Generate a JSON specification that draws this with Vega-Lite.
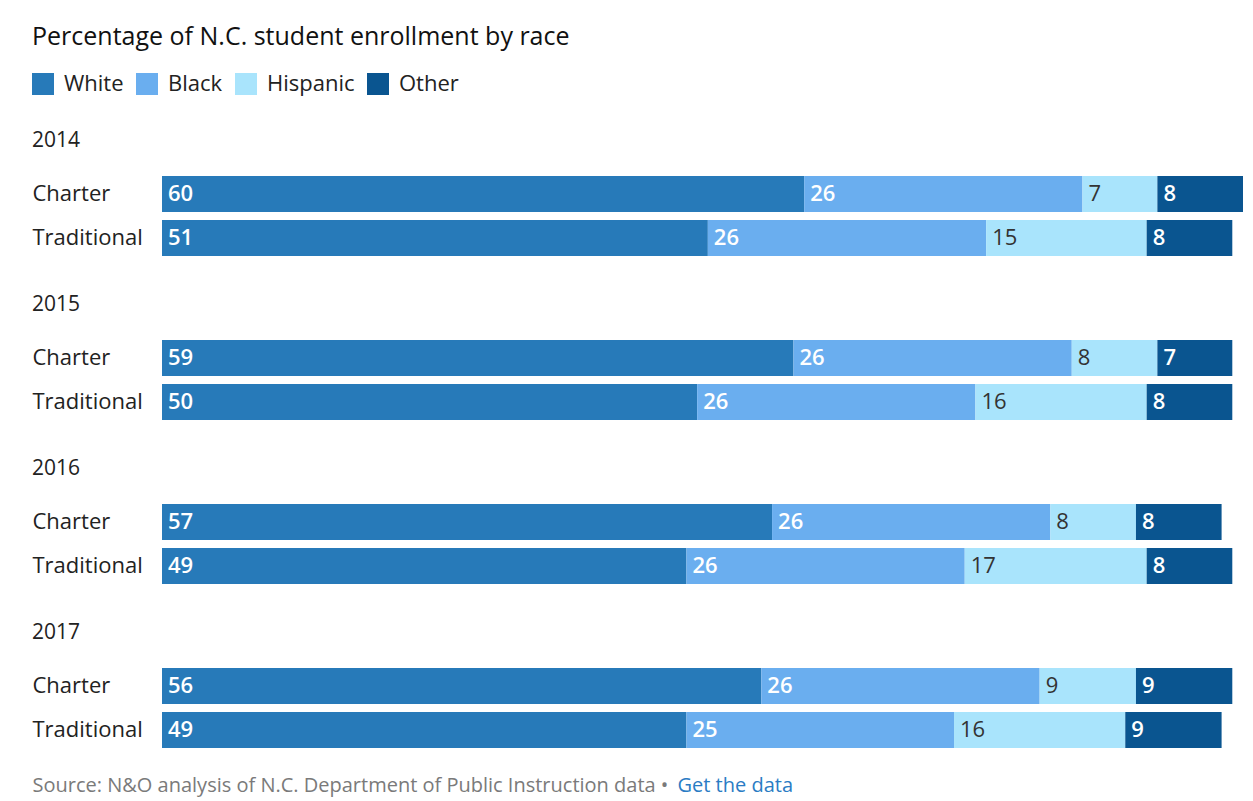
{
  "$schema": "https://vega.github.io/schema/vega-lite/v6.json",
  "padding": {"left": 32, "top": 25, "right": 5, "bottom": 5},
  "background": "white",
  "title": {"text": "Percentage of N.C. student enrollment by race", "anchor": "start", "fontSize": 25, "fontWeight": "normal", "color": "#111111", "font": "Open Sans", "offset": 23},
  "data": {"values": [
    {"year": 2014, "type": "Charter", "race": "White", "value": 60},
    {"year": 2014, "type": "Charter", "race": "Black", "value": 26},
    {"year": 2014, "type": "Charter", "race": "Hispanic", "value": 7},
    {"year": 2014, "type": "Charter", "race": "Other", "value": 8},
    {"year": 2014, "type": "Traditional", "race": "White", "value": 51},
    {"year": 2014, "type": "Traditional", "race": "Black", "value": 26},
    {"year": 2014, "type": "Traditional", "race": "Hispanic", "value": 15},
    {"year": 2014, "type": "Traditional", "race": "Other", "value": 8},
    {"year": 2015, "type": "Charter", "race": "White", "value": 59},
    {"year": 2015, "type": "Charter", "race": "Black", "value": 26},
    {"year": 2015, "type": "Charter", "race": "Hispanic", "value": 8},
    {"year": 2015, "type": "Charter", "race": "Other", "value": 7},
    {"year": 2015, "type": "Traditional", "race": "White", "value": 50},
    {"year": 2015, "type": "Traditional", "race": "Black", "value": 26},
    {"year": 2015, "type": "Traditional", "race": "Hispanic", "value": 16},
    {"year": 2015, "type": "Traditional", "race": "Other", "value": 8},
    {"year": 2016, "type": "Charter", "race": "White", "value": 57},
    {"year": 2016, "type": "Charter", "race": "Black", "value": 26},
    {"year": 2016, "type": "Charter", "race": "Hispanic", "value": 8},
    {"year": 2016, "type": "Charter", "race": "Other", "value": 8},
    {"year": 2016, "type": "Traditional", "race": "White", "value": 49},
    {"year": 2016, "type": "Traditional", "race": "Black", "value": 26},
    {"year": 2016, "type": "Traditional", "race": "Hispanic", "value": 17},
    {"year": 2016, "type": "Traditional", "race": "Other", "value": 8},
    {"year": 2017, "type": "Charter", "race": "White", "value": 56},
    {"year": 2017, "type": "Charter", "race": "Black", "value": 26},
    {"year": 2017, "type": "Charter", "race": "Hispanic", "value": 9},
    {"year": 2017, "type": "Charter", "race": "Other", "value": 9},
    {"year": 2017, "type": "Traditional", "race": "White", "value": 49},
    {"year": 2017, "type": "Traditional", "race": "Black", "value": 25},
    {"year": 2017, "type": "Traditional", "race": "Hispanic", "value": 16},
    {"year": 2017, "type": "Traditional", "race": "Other", "value": 9}
  ]},
  "transform": [
    {"calculate": "indexof(['White','Black','Hispanic','Other'], datum.race)", "as": "rk"},
    {"stack": "value", "groupby": ["year", "type"], "sort": [{"field": "rk", "order": "ascending"}], "as": ["x0", "x1"]}
  ],
  "spacing": 38,
  "vconcat": [
    {
      "title": {"text": "2014"},
      "transform": [{"filter": "datum.year == 2014"}],
      "width": 1081, "height": 80,
      "encoding": {
        "y": {"field": "type", "type": "nominal", "sort": ["Charter", "Traditional"], "title": null, "scale": {"paddingInner": 0.18, "paddingOuter": 0}},
        "x": {"field": "x0", "type": "quantitative", "scale": {"domain": [0, 101], "nice": false, "zero": false}, "axis": null}
      },
      "layer": [
        {"mark": {"type": "bar"}, "encoding": {"x2": {"field": "x1"}, "color": {"field": "race", "type": "nominal", "sort": ["White", "Black", "Hispanic", "Other"], "scale": {"domain": ["White", "Black", "Hispanic", "Other"], "range": ["#277ab9", "#6aaeef", "#a9e4fc", "#0a5590"]}, "legend": {"title": null}}}},
        {"transform": [{"filter": "datum.race != 'Hispanic'"}], "mark": {"type": "text", "align": "left", "dx": 6, "color": "white", "fontWeight": 600, "fontSize": 22, "baseline": "middle"}, "encoding": {"text": {"field": "value"}}},
        {"transform": [{"filter": "datum.race == 'Hispanic'"}], "mark": {"type": "text", "align": "left", "dx": 6, "color": "#333333", "fontSize": 22, "baseline": "middle"}, "encoding": {"text": {"field": "value"}}}
      ]
    },
    {
      "title": {"text": "2015"},
      "transform": [{"filter": "datum.year == 2015"}],
      "width": 1081, "height": 80,
      "encoding": {
        "y": {"field": "type", "type": "nominal", "sort": ["Charter", "Traditional"], "title": null, "scale": {"paddingInner": 0.18, "paddingOuter": 0}},
        "x": {"field": "x0", "type": "quantitative", "scale": {"domain": [0, 101], "nice": false, "zero": false}, "axis": null}
      },
      "layer": [
        {"mark": {"type": "bar"}, "encoding": {"x2": {"field": "x1"}, "color": {"field": "race", "type": "nominal", "sort": ["White", "Black", "Hispanic", "Other"], "scale": {"domain": ["White", "Black", "Hispanic", "Other"], "range": ["#277ab9", "#6aaeef", "#a9e4fc", "#0a5590"]}, "legend": {"title": null}}}},
        {"transform": [{"filter": "datum.race != 'Hispanic'"}], "mark": {"type": "text", "align": "left", "dx": 6, "color": "white", "fontWeight": 600, "fontSize": 22, "baseline": "middle"}, "encoding": {"text": {"field": "value"}}},
        {"transform": [{"filter": "datum.race == 'Hispanic'"}], "mark": {"type": "text", "align": "left", "dx": 6, "color": "#333333", "fontSize": 22, "baseline": "middle"}, "encoding": {"text": {"field": "value"}}}
      ]
    },
    {
      "title": {"text": "2016"},
      "transform": [{"filter": "datum.year == 2016"}],
      "width": 1081, "height": 80,
      "encoding": {
        "y": {"field": "type", "type": "nominal", "sort": ["Charter", "Traditional"], "title": null, "scale": {"paddingInner": 0.18, "paddingOuter": 0}},
        "x": {"field": "x0", "type": "quantitative", "scale": {"domain": [0, 101], "nice": false, "zero": false}, "axis": null}
      },
      "layer": [
        {"mark": {"type": "bar"}, "encoding": {"x2": {"field": "x1"}, "color": {"field": "race", "type": "nominal", "sort": ["White", "Black", "Hispanic", "Other"], "scale": {"domain": ["White", "Black", "Hispanic", "Other"], "range": ["#277ab9", "#6aaeef", "#a9e4fc", "#0a5590"]}, "legend": {"title": null}}}},
        {"transform": [{"filter": "datum.race != 'Hispanic'"}], "mark": {"type": "text", "align": "left", "dx": 6, "color": "white", "fontWeight": 600, "fontSize": 22, "baseline": "middle"}, "encoding": {"text": {"field": "value"}}},
        {"transform": [{"filter": "datum.race == 'Hispanic'"}], "mark": {"type": "text", "align": "left", "dx": 6, "color": "#333333", "fontSize": 22, "baseline": "middle"}, "encoding": {"text": {"field": "value"}}}
      ]
    },
    {
      "title": {"text": "2017"},
      "transform": [{"filter": "datum.year == 2017"}],
      "width": 1081, "height": 80,
      "encoding": {
        "y": {"field": "type", "type": "nominal", "sort": ["Charter", "Traditional"], "title": null, "scale": {"paddingInner": 0.18, "paddingOuter": 0}}
      },
      "layer": [
        {"mark": {"type": "bar"}, "encoding": {
          "x": {"field": "x0", "type": "quantitative", "scale": {"domain": [0, 101], "nice": false, "zero": false},
                "axis": {"orient": "bottom", "domain": false, "ticks": false, "labels": false, "grid": false, "title": "Source: N&O analysis of N.C. Department of Public Instruction data •", "titleColor": "#7a7a7a", "titleFontSize": 20, "titleFont": "Open Sans", "titleFontWeight": "normal", "titleAnchor": "start", "titleAlign": "left", "titleX": -130, "titleY": 37, "titleBaseline": "middle"}},
          "x2": {"field": "x1"}, "color": {"field": "race", "type": "nominal", "sort": ["White", "Black", "Hispanic", "Other"], "scale": {"domain": ["White", "Black", "Hispanic", "Other"], "range": ["#277ab9", "#6aaeef", "#a9e4fc", "#0a5590"]}, "legend": {"title": null}}}},
        {"transform": [{"filter": "datum.race != 'Hispanic'"}], "mark": {"type": "text", "align": "left", "dx": 6, "color": "white", "fontWeight": 600, "fontSize": 22, "baseline": "middle"}, "encoding": {
          "x": {"field": "x0", "type": "quantitative", "scale": {"domain": [0, 101], "nice": false, "zero": false},
                "axis": {"orient": "top", "domain": false, "ticks": false, "labels": false, "grid": false, "title": "Get the data", "titleColor": "#2a7cc4", "titleFontSize": 20, "titleFont": "Open Sans", "titleFontWeight": "normal", "titleAnchor": "start", "titleAlign": "left", "titleX": 515, "titleY": 117, "titleBaseline": "middle"}},
          "text": {"field": "value"}}},
        {"transform": [{"filter": "datum.race == 'Hispanic'"}], "mark": {"type": "text", "align": "left", "dx": 6, "color": "#333333", "fontSize": 22, "baseline": "middle"}, "encoding": {
          "x": {"field": "x0", "type": "quantitative", "scale": {"domain": [0, 101], "nice": false, "zero": false}, "axis": null},
          "text": {"field": "value"}}}
      ],
      "resolve": {"axis": {"x": "independent"}}
    }
  ],
  "config": {
    "font": "Open Sans",
    "view": {"stroke": null},
    "text": {"font": "Open Sans"},
    "title": {"fontSize": 21, "fontWeight": "normal", "color": "#222222", "anchor": "start", "offset": 25, "font": "Open Sans"},
    "axisY": {"domain": false, "ticks": false, "labelAlign": "left", "labelPadding": 130, "labelFontSize": 22, "labelColor": "#222222", "labelFont": "Open Sans"},
    "legend": {"orient": "none", "legendX": -130, "legendY": -103, "direction": "horizontal", "symbolType": "square", "symbolSize": 484, "symbolStrokeWidth": 0, "symbolOpacity": 1, "labelFontSize": 22, "labelColor": "#222222", "labelFont": "Open Sans", "columnPadding": 12, "labelOffset": 10}
  }
}
